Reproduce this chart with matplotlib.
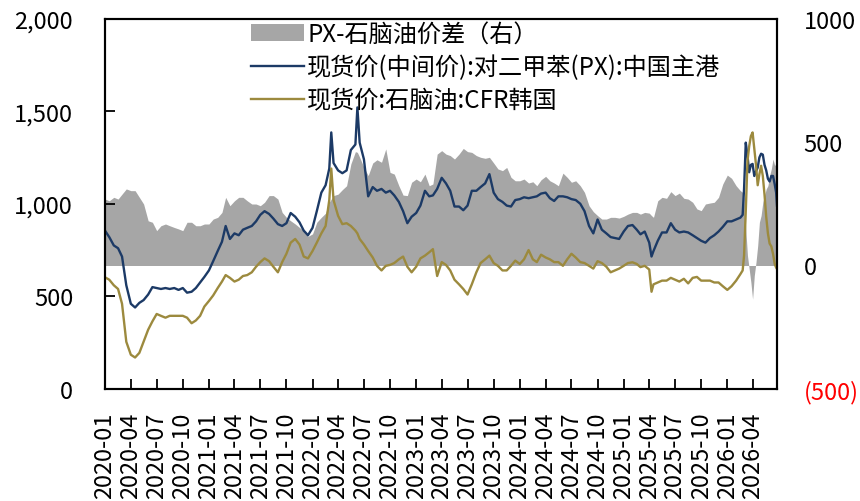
import pandas as pd
import matplotlib
matplotlib.use('Agg')
import matplotlib.pyplot as plt
import matplotlib.ticker as ticker

plt.rcParams['font.family'] = ['Noto Sans CJK SC', 'DejaVu Sans']
plt.rcParams['axes.unicode_minus'] = False

# Данные (примерно раз в полмесяца)

dates = [
    '2020-01-01', '2020-01-16', '2020-02-01', '2020-02-16', '2020-03-01', '2020-03-16',
    '2020-04-01', '2020-04-16', '2020-05-01', '2020-05-16', '2020-06-01', '2020-06-16',
    '2020-07-01', '2020-07-16', '2020-08-01', '2020-08-16', '2020-09-01', '2020-09-16',
    '2020-10-01', '2020-10-16', '2020-11-01', '2020-11-16', '2020-12-01', '2020-12-16',
    '2021-01-01', '2021-01-16', '2021-02-01', '2021-02-16', '2021-03-01', '2021-03-16',
    '2021-04-01', '2021-04-16', '2021-05-01', '2021-05-16', '2021-06-01', '2021-06-16',
    '2021-07-01', '2021-07-16', '2021-08-01', '2021-08-16', '2021-09-01', '2021-09-16',
    '2021-10-01', '2021-10-16', '2021-11-01', '2021-11-16', '2021-12-01', '2021-12-16',
    '2022-01-01', '2022-01-16', '2022-02-01', '2022-02-16', '2022-03-01', '2022-03-08',
    '2022-03-16', '2022-04-01', '2022-04-16', '2022-05-01', '2022-05-16', '2022-06-01',
    '2022-06-08', '2022-06-16', '2022-07-01', '2022-07-16', '2022-08-01', '2022-08-16',
    '2022-09-01', '2022-09-16', '2022-10-01', '2022-10-16', '2022-11-01', '2022-11-16',
    '2022-12-01', '2022-12-16',
    '2023-01-01', '2023-01-16', '2023-02-01', '2023-02-16', '2023-03-01', '2023-03-16',
    '2023-04-01', '2023-04-16', '2023-05-01', '2023-05-16', '2023-06-01', '2023-06-16',
    '2023-07-01', '2023-07-16', '2023-08-01', '2023-08-16', '2023-09-01', '2023-09-16',
    '2023-10-01', '2023-10-16', '2023-11-01', '2023-11-16', '2023-12-01', '2023-12-16',
    '2024-01-01', '2024-01-16', '2024-02-01', '2024-02-16', '2024-03-01', '2024-03-16',
    '2024-04-01', '2024-04-16', '2024-05-01', '2024-05-16', '2024-06-01', '2024-06-16',
    '2024-07-01', '2024-07-16', '2024-08-01', '2024-08-16', '2024-09-01', '2024-09-16',
    '2024-10-01', '2024-10-16', '2024-11-01', '2024-11-16', '2024-12-01', '2024-12-16',
    '2025-01-01', '2025-01-16', '2025-02-01', '2025-02-16', '2025-03-01', '2025-03-16',
    '2025-04-01', '2025-04-09', '2025-04-16', '2025-05-01', '2025-05-16', '2025-06-01',
    '2025-06-16', '2025-07-01', '2025-07-16', '2025-08-01', '2025-08-16', '2025-09-01',
    '2025-09-16', '2025-10-01', '2025-10-16', '2025-11-01', '2025-11-16', '2025-12-01',
    '2025-12-16',
    '2026-01-01', '2026-01-16', '2026-02-01', '2026-02-16', '2026-02-24', '2026-03-01',
    '2026-03-07', '2026-03-13', '2026-03-19', '2026-03-25', '2026-03-31', '2026-04-06',
    '2026-04-12', '2026-04-18', '2026-04-24', '2026-04-30', '2026-05-06', '2026-05-12',
    '2026-05-18', '2026-05-24', '2026-05-30', '2026-06-05', '2026-06-11', '2026-06-17',
    '2026-06-22', '2026-06-25',
]

px_price = [
    855, 820, 775, 760, 715, 560, 460, 440, 465, 480, 510, 550,
    545, 540, 545, 540, 545, 535, 545, 520, 525, 545, 575, 605,
    640, 690, 745, 795, 880, 810, 840, 830, 860, 870, 880, 905,
    940, 960, 945, 920, 890, 880, 895, 950, 930, 900, 855, 830,
    870, 960, 1060, 1100, 1190, 1385, 1220, 1180, 1165, 1180, 1290, 1320,
    1520, 1330, 1240, 1040, 1090, 1070, 1080, 1060, 1070, 1045, 1010, 960,
    895, 930,
    950, 990, 1070, 1040, 1045, 1080, 1140, 1110, 1070, 985, 985, 965,
    990, 1070, 1070, 1090, 1110, 1160, 1060, 1025, 1010, 990, 985, 1020,
    1025, 1035, 1030, 1035, 1040, 1055, 1060, 1030, 1015, 1040, 1040, 1035,
    1025, 1020, 1000, 960, 880, 840, 915, 860, 840, 820, 815, 810,
    850, 880, 885, 860, 835, 850, 790, 715, 745, 800, 845, 845,
    895, 860, 845, 850, 845, 830, 815, 800, 790, 815, 830, 850,
    875,
    905, 905, 915, 925, 940, 1080, 1330, 1260, 1170, 1210, 1215, 1150,
    1175, 1195, 1250, 1270, 1265, 1210, 1180, 1135, 1120, 1150, 1150, 1105,
    1060, 990,
]

naphtha_price = [
    603, 590, 560, 540, 460, 255, 185, 170, 195, 255, 320, 365,
    405, 395, 385, 395, 395, 395, 395, 385, 355, 370, 395, 445,
    475, 505, 545, 580, 615, 600, 580, 590, 610, 615, 630, 660,
    685, 705, 690, 660, 630, 685, 730, 790, 810, 780, 715, 705,
    745, 790, 840, 880, 1020, 1190, 1020, 935, 890, 895, 880, 855,
    840, 810, 780, 745, 710, 665, 640, 665, 670, 680, 700, 715,
    660, 630,
    660, 705, 720, 738, 755, 610, 685, 670, 640, 590, 565, 540,
    510, 565, 630, 680, 700, 720, 680, 665, 640, 640, 665, 693,
    675, 700, 750, 700, 685, 725, 710, 700, 685, 685, 665, 700,
    730, 710, 685, 680, 665, 650, 690, 680, 660, 630, 640, 650,
    665, 680, 684, 675, 658, 665, 645, 525, 565, 575, 585, 585,
    600, 590, 580, 595, 570, 600, 605, 585, 585, 585, 575, 575,
    555,
    535, 555, 585, 620, 640, 720, 960, 1230, 1310, 1365, 1385, 1295,
    1210, 1100, 1160, 1205, 1150, 1050, 930, 840, 785, 770, 730, 675,
    655, 648,
]

spread = [
    269, 262, 276, 269, 289, 310, 303, 303, 276, 249, 181, 175,
    141, 161, 168, 161, 154, 148, 141, 175, 175, 161, 161, 168,
    168, 188, 195, 215, 276, 242, 262, 276, 276, 262, 249, 249,
    242, 256, 283, 283, 269, 215, 195, 181, 168, 154, 141, 118,
    128, 175, 195, 212, 256, 269, 283, 289, 307, 323, 411, 461,
    458, 438, 397, 364, 415, 428, 418, 472, 377, 370, 323, 285,
    283, 337,
    350, 339, 370, 323, 330, 451, 465, 451, 445, 431, 451, 474,
    461, 458, 445, 438, 434, 438, 415, 391, 384, 397, 357, 343,
    343, 350, 334, 339, 323, 347, 361, 343, 334, 323, 374, 357,
    337, 343, 323, 296, 242, 218, 202, 188, 188, 195, 195, 192,
    199, 208, 215, 215, 208, 215, 212, 202, 195, 262, 276, 272,
    299, 283, 293, 272, 269, 256, 229, 222, 249, 253, 256, 276,
    330,
    366, 353, 323, 303, 296, 269, 148, 40, -14, -68, -136, -41,
    13, 80, 175, 202, 256, 283, 310, 323, 364, 391, 431, 404,
    418, 404,
]

legend_labels = ['PX-石脑油价差（右）', '现货价(中间价):对二甲苯(PX):中国主港', '现货价:石脑油:CFR韩国']
right_ticks = [-500, 0, 500, 1000]
right_tick_labels = ['(500)', '0', '500', '1000']

x = pd.to_datetime(dates)
x_ticks = pd.date_range('2020-01-01', '2026-04-01', freq='QS')

# Графики

fig = plt.figure(figsize=(8.6, 5.02), dpi=100)
ax1 = fig.add_axes([105 / 860, 1 - 390 / 502, 672 / 860, 370.5 / 502])
ax2 = ax1.twinx()
ax1.set_zorder(ax2.get_zorder() + 1)
ax1.patch.set_visible(False)

area = ax2.fill_between(x, 0, spread, color='#A6A6A6', lw=0)
line_px, = ax1.plot(x, px_price, color='#1C3A66', lw=1.7)
line_nap, = ax1.plot(x, naphtha_price, color='#9C8A3E', lw=1.7)

ax1.set_xlim(pd.Timestamp('2020-01-01'), pd.Timestamp('2026-06-25'))
ax1.set_ylim(0, 2000)
ax2.set_ylim(-500, 1000)

ax1.set_xticks(x_ticks)
ax1.set_xticklabels([d.strftime('%Y-%m') for d in x_ticks], rotation=90)
ax1.yaxis.set_major_locator(ticker.MultipleLocator(500))
ax1.yaxis.set_major_formatter(ticker.FuncFormatter(lambda v, _: '{:,.0f}'.format(v)))

ax2.set_yticks(right_ticks)
ax2.set_yticklabels(right_tick_labels)
ax2.get_yticklabels()[0].set_color('red')

ax1.tick_params(axis='x', direction='in', length=7, width=1.3, pad=16, labelsize=17)
ax1.tick_params(axis='y', direction='in', length=7, width=1.3, pad=23, labelsize=17)
ax2.tick_params(axis='y', length=0, pad=19, labelsize=17)

for ax in (ax1, ax2):
    for s in ax.spines.values():
        s.set_linewidth(1.5)

ax1.legend([area, line_px, line_nap], legend_labels,
           loc='upper left', bbox_to_anchor=(251 / 860, 1 - 22 / 502),
           bbox_transform=fig.transFigure, frameon=False, fontsize=17.4,
           handlelength=2.2, handletextpad=0.12, labelspacing=0.3,
           borderpad=0, borderaxespad=0)

fig.savefig('out.png', dpi=100)
